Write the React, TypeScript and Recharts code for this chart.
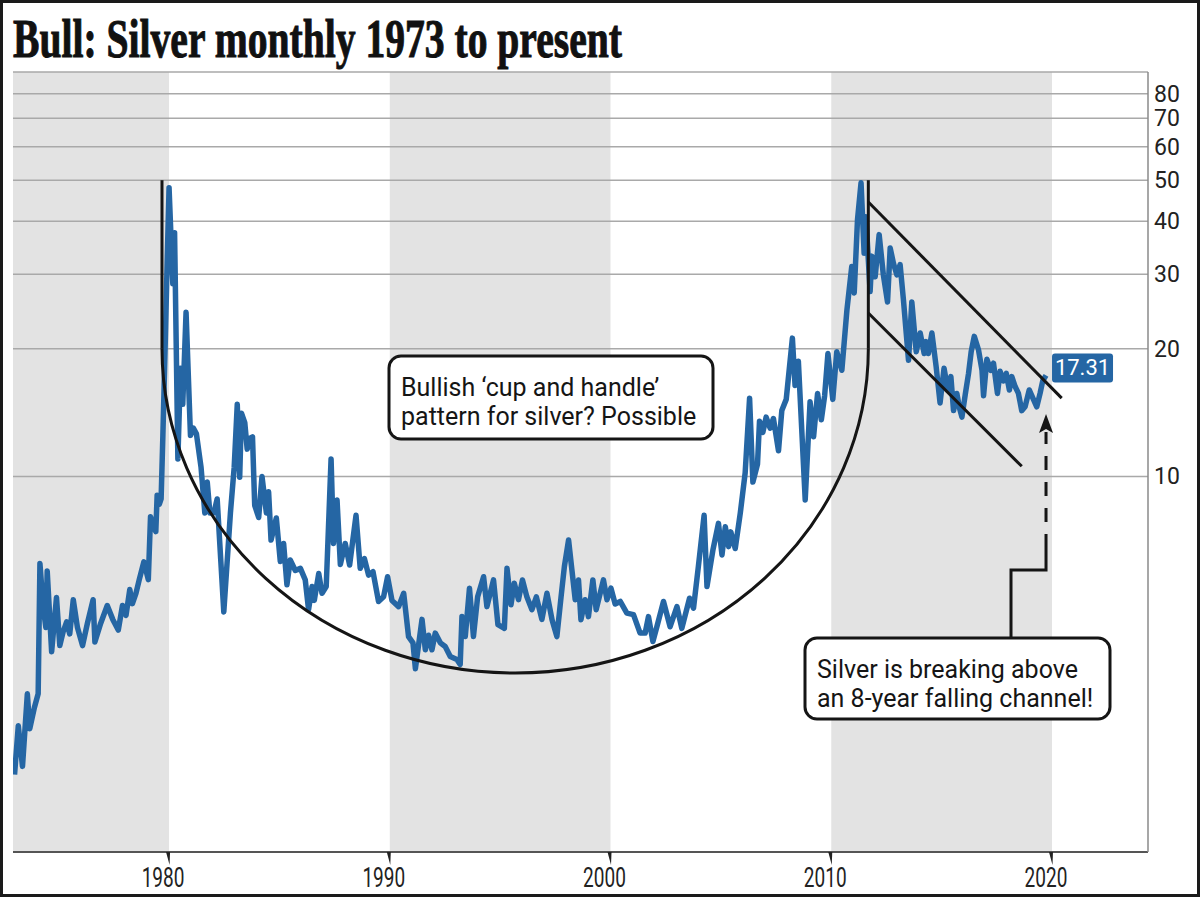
import React from "react";
import { LineChart, Line, XAxis, YAxis, ReferenceArea, ReferenceLine, ReferenceDot } from "recharts";

// silver, US$ per ounce (year as decimal)
const silver1970s: [number, number][] = [
  [1973.0, 1.98], [1973.17, 2.58], [1973.36, 2.07], [1973.58, 3.07], [1973.69, 2.54], [1973.9, 2.85],
  [1974.07, 3.07], [1974.15, 6.23], [1974.3, 4.9], [1974.42, 4.4], [1974.48, 5.98], [1974.68, 3.86],
  [1974.9, 5.18], [1975.05, 3.99], [1975.2, 4.3], [1975.36, 4.54], [1975.5, 4.25], [1975.66, 5.12],
  [1975.85, 4.4], [1976.08, 3.99], [1976.3, 4.5], [1976.56, 5.12], [1976.64, 4.07], [1976.9, 4.5],
  [1977.2, 4.96], [1977.45, 4.6], [1977.7, 4.34], [1977.89, 4.96], [1978.05, 4.7], [1978.22, 5.41],
  [1978.34, 5.01], [1978.5, 5.3], [1978.65, 5.71], [1978.86, 6.29], [1979.06, 5.71], [1979.16, 8.03],
  [1979.3, 7.6], [1979.4, 7.41], [1979.46, 9.03], [1979.56, 8.6], [1979.64, 8.85], [1979.72, 12.5],
  [1979.84, 22.0], [1979.92, 33.0],
];

const silver1980s: [number, number][] = [
  [1980.0, 48.0], [1980.17, 28.5], [1980.25, 37.6], [1980.4, 11.0], [1980.52, 18.0], [1980.62, 14.8],
  [1980.77, 24.4], [1980.97, 12.5], [1981.1, 13.0], [1981.24, 12.6], [1981.45, 10.5], [1981.62, 8.2],
  [1981.73, 9.7], [1981.85, 8.2], [1982.03, 8.2], [1982.18, 8.85], [1982.48, 4.79], [1982.78, 8.2],
  [1982.95, 10.5], [1983.09, 14.8], [1983.2, 9.96], [1983.28, 14.1], [1983.43, 13.4], [1983.54, 11.6],
  [1983.65, 12.3], [1983.78, 12.4], [1983.88, 8.55], [1984.06, 8.0], [1984.21, 10.0], [1984.41, 8.2],
  [1984.51, 9.2], [1984.62, 7.08], [1984.86, 7.98], [1985.04, 6.3], [1985.19, 6.95], [1985.34, 5.55],
  [1985.49, 6.35], [1985.72, 6.0], [1985.95, 6.07], [1986.17, 5.7], [1986.32, 4.85], [1986.48, 5.5],
  [1986.58, 5.1], [1986.78, 5.9], [1986.93, 5.3], [1987.12, 5.5], [1987.34, 11.0], [1987.45, 6.95],
  [1987.61, 8.8], [1987.76, 6.2], [1987.98, 6.95], [1988.18, 6.18], [1988.47, 8.1], [1988.66, 6.07],
  [1988.85, 6.4], [1989.04, 5.85], [1989.24, 5.96], [1989.49, 5.07], [1989.72, 5.2], [1989.9, 5.8],
];

const silver1990s: [number, number][] = [
  [1990.1, 5.1], [1990.4, 4.93], [1990.63, 5.3], [1990.85, 4.19], [1991.05, 4.05], [1991.16, 3.52],
  [1991.46, 4.6], [1991.61, 3.9], [1991.76, 4.22], [1991.91, 3.9], [1992.06, 4.27], [1992.29, 4.05],
  [1992.51, 3.97], [1992.74, 3.76], [1993.04, 3.7], [1993.19, 3.6], [1993.27, 4.67], [1993.42, 4.19],
  [1993.61, 5.45], [1993.79, 4.19], [1993.98, 5.2], [1994.25, 5.8], [1994.4, 4.93], [1994.7, 5.7],
  [1994.9, 4.47], [1995.19, 4.38], [1995.31, 6.07], [1995.49, 4.98], [1995.64, 5.6], [1995.83, 5.12],
  [1996.01, 5.7], [1996.21, 5.2], [1996.44, 4.85], [1996.64, 5.2], [1996.89, 4.6], [1997.12, 5.3],
  [1997.35, 4.59], [1997.57, 4.19], [1997.76, 5.2], [1997.91, 6.13], [1998.1, 7.08], [1998.25, 6.02],
  [1998.4, 5.12], [1998.55, 5.7], [1998.66, 4.59], [1998.85, 5.12], [1999.0, 4.67], [1999.2, 5.7],
  [1999.35, 4.85], [1999.53, 5.3], [1999.68, 5.7], [1999.84, 5.12],
];

const silver2000s: [number, number][] = [
  [2000.02, 5.45], [2000.21, 5.0], [2000.44, 5.07], [2000.74, 4.76], [2001.04, 4.72], [2001.34, 4.27],
  [2001.57, 4.27], [2001.72, 4.67], [2001.92, 4.08], [2002.1, 4.42], [2002.4, 5.07], [2002.7, 4.42],
  [2003.01, 4.93], [2003.23, 4.38], [2003.58, 5.16], [2003.76, 4.89], [2003.98, 6.13], [2004.24, 8.1],
  [2004.37, 5.5], [2004.64, 6.71], [2004.89, 7.75], [2005.05, 6.53], [2005.2, 7.61], [2005.35, 6.83],
  [2005.45, 7.4], [2005.65, 6.76], [2005.88, 8.2], [2006.1, 10.2], [2006.3, 15.3], [2006.45, 9.7],
  [2006.66, 10.7], [2006.75, 13.5], [2006.9, 12.7], [2007.05, 13.8], [2007.23, 13.0], [2007.38, 13.7],
  [2007.61, 11.5], [2007.76, 14.3], [2007.96, 15.2], [2008.24, 21.2], [2008.36, 16.4], [2008.51, 18.7],
  [2008.82, 8.8], [2009.04, 15.0], [2009.2, 12.4], [2009.38, 15.7], [2009.55, 13.6], [2009.7, 15.5],
  [2009.85, 19.5],
];

const silver2010s: [number, number][] = [
  [2010.07, 15.2], [2010.25, 19.7], [2010.48, 17.8], [2010.71, 24.7], [2010.93, 31.3], [2011.04, 27.1],
  [2011.19, 40.4], [2011.35, 49.3], [2011.49, 33.6], [2011.57, 41.0], [2011.76, 27.3], [2011.84, 33.1],
  [2011.99, 29.6], [2012.17, 37.2], [2012.36, 29.9], [2012.55, 25.8], [2012.67, 34.6], [2012.82, 31.8],
  [2012.97, 29.9], [2013.12, 31.6], [2013.27, 26.1], [2013.5, 18.8], [2013.65, 25.8], [2013.85, 19.7],
  [2014.03, 21.8], [2014.21, 19.5], [2014.3, 20.8], [2014.4, 19.5], [2014.56, 21.8], [2014.75, 18.2],
  [2014.93, 14.9], [2015.11, 18.0], [2015.28, 16.0], [2015.42, 17.2], [2015.54, 14.3], [2015.69, 15.7],
  [2015.81, 14.5], [2015.92, 13.8], [2016.07, 15.6], [2016.22, 17.5], [2016.34, 19.7], [2016.48, 21.4],
  [2016.67, 19.9], [2016.83, 17.8], [2016.9, 15.5], [2017.05, 18.9], [2017.23, 17.8], [2017.35, 18.5],
  [2017.53, 15.7], [2017.65, 17.7], [2017.8, 16.8], [2017.93, 17.5], [2018.07, 16.0], [2018.18, 17.2],
  [2018.33, 16.3], [2018.48, 15.7], [2018.63, 14.3], [2018.78, 14.6], [2018.97, 16.0], [2019.16, 15.2],
  [2019.31, 14.6], [2019.46, 15.7], [2019.58, 16.8], [2019.73, 17.31],
];

const priceTicks = [10, 20, 30, 40, 50, 60, 70, 80, 90];
const yearTicks = [1980, 1990, 2000, 2010, 2020];
const decadeBands: [number, number][] = [[1972.93, 1980], [1990, 2000], [2010, 2020]];

// annotation geometry in data terms (year, price)
const cupSides = [1979.68, 2011.68];
const cupRim: [number, number] = [50, 20];
const channelUpper: [number, number][] = [[2011.68, 44.4], [2020.44, 15.3]];
const channelLower: [number, number][] = [[2011.68, 24.3], [2018.63, 10.57]];

const W = 1200;
const H = 897;
const PLOT = { left: 13, right: 1148, top: 72, bottom: 852 };
const X_DOMAIN: [number, number] = [1972.93, 2024.35];
const Y_DOMAIN: [number, number] = [1.3, 90];

const px = (t: number) =>
  PLOT.left + ((t - X_DOMAIN[0]) / (X_DOMAIN[1] - X_DOMAIN[0])) * (PLOT.right - PLOT.left);
const py = (v: number) =>
  PLOT.bottom -
  (Math.log(v / Y_DOMAIN[0]) / Math.log(Y_DOMAIN[1] / Y_DOMAIN[0])) * (PLOT.bottom - PLOT.top);

const data = [...silver1970s, ...silver1980s, ...silver1990s, ...silver2000s, ...silver2010s].map(
  ([t, v]) => ({ t, v })
);
const last = data[data.length - 1];

const BLUE = "#2566a4";
const INK = "#151515";
const SANS = "Roboto, 'Open Sans', sans-serif";

const YearTick = (props: any) => {
  const { x, payload } = props;
  const y0 = PLOT.bottom;
  return (
    <g>
      <path d={`M${x - 3},${y0} L${x + 1},${y0} L${x + 0.5},${y0 + 13} Z`} fill="#222" />
      <text
        transform={`translate(${x - 6},${y0 + 35}) scale(0.68,1)`}
        textAnchor="middle"
        fontFamily={SANS}
        fontSize={28}
        fill="#222"
      >
        {payload.value}
      </text>
    </g>
  );
};

const PriceTick = (props: any) => {
  const { y, payload } = props;
  if (payload.value === 90) return <g />;
  return (
    <text x={PLOT.right + 6} y={y + 8} textAnchor="start" fontFamily={SANS} fontSize={23} fill="#222">
      {payload.value}
    </text>
  );
};

const PriceTag = (props: any) => {
  const { cx, cy } = props;
  const x = cx + 6;
  const y = cy - 22;
  return (
    <g>
      <rect x={x} y={y} width={61} height={29} rx={3} fill={BLUE} />
      <text x={x + 30.5} y={y + 22} textAnchor="middle" fontFamily={SANS} fontSize={22} fill="#fff">
        {last.v.toFixed(2)}
      </text>
    </g>
  );
};

const Callout = ({ x, y, w, h, lines }: { x: number; y: number; w: number; h: number; lines: string[] }) => (
  <g>
    <rect x={x} y={y} width={w} height={h} rx={12} fill="#fff" stroke={INK} strokeWidth={3} />
    {lines.map((s, i) => (
      <text key={i} x={x + 12} y={y + 40 + i * 29} fontFamily={SANS} fontSize={25} fill={INK}>
        {s}
      </text>
    ))}
  </g>
);

export default function App() {
  const cupL = px(cupSides[0]);
  const cupR = px(cupSides[1]);
  const rimY = py(cupRim[1]);
  const bowlBottom = 673;
  const arrowX = px(last.t);

  return (
    <div style={{ position: "relative", width: W, height: H, background: "#fff", overflow: "hidden" }}>
      <style>{"body{margin:0}"}</style>
      <LineChart
        width={W}
        height={H}
        data={data}
        margin={{ top: PLOT.top, right: W - PLOT.right - 52, bottom: H - PLOT.bottom - 30, left: PLOT.left }}
      >
        {decadeBands.map(([a, b]) => (
          <ReferenceArea key={a} x1={a} x2={b} fill="#e3e3e3" fillOpacity={1} stroke="none" ifOverflow="hidden" />
        ))}
        {priceTicks.map((v) => (
          <ReferenceLine key={v} y={v} stroke="#a9a9a9" strokeWidth={1.5} />
        ))}
        <XAxis
          dataKey="t"
          type="number"
          domain={X_DOMAIN}
          allowDataOverflow
          ticks={yearTicks}
          tick={<YearTick />}
          tickLine={false}
          axisLine={{ stroke: "#555", strokeWidth: 2 }}
          height={30}
          interval={0}
        />
        <YAxis
          orientation="right"
          scale="log"
          domain={Y_DOMAIN}
          allowDataOverflow
          ticks={priceTicks}
          tick={<PriceTick />}
          tickLine={false}
          axisLine={{ stroke: "#8a8a8a", strokeWidth: 1.5 }}
          width={52}
          interval={0}
        />
        <Line
          type="linear"
          dataKey="v"
          stroke={BLUE}
          strokeWidth={5.5}
          strokeLinejoin="round"
          dot={false}
          isAnimationActive={false}
        />
        {cupSides.map((t) => (
          <ReferenceLine
            key={t}
            segment={[{ x: t, y: cupRim[0] }, { x: t, y: cupRim[1] }]}
            stroke={INK}
            strokeWidth={3}
          />
        ))}
        <ReferenceLine
          segment={channelUpper.map(([x, y]) => ({ x, y }))}
          stroke={INK}
          strokeWidth={3}
        />
        <ReferenceLine
          segment={channelLower.map(([x, y]) => ({ x, y }))}
          stroke={INK}
          strokeWidth={3}
        />
        <ReferenceDot x={last.t} y={last.v} r={0} shape={<PriceTag />} ifOverflow="visible" />
      </LineChart>

      <svg width={W} height={H} style={{ position: "absolute", left: 0, top: 0, pointerEvents: "none" }}>
        <text
          x={13}
          y={57}
          fontFamily="'Liberation Serif', 'DejaVu Serif', serif"
          fontWeight={700}
          fontSize={54}
          textLength={609}
          lengthAdjust="spacingAndGlyphs"
          fill="#111"
          stroke="#111"
          strokeWidth={1}
        >
          Bull: Silver monthly 1973 to present
        </text>
        <path
          d={`M${cupL},${rimY} A${(cupR - cupL) / 2},${bowlBottom - rimY} 0 0 0 ${cupR},${rimY}`}
          fill="none"
          stroke={INK}
          strokeWidth={3}
        />
        <Callout x={389} y={356} w={324} h={83} lines={["Bullish \u2018cup and handle\u2019", "pattern for silver? Possible"]} />
        <Callout x={805} y={638} w={305} h={81} lines={["Silver is breaking above", "an 8-year falling channel!"]} />
        <polyline
          points={`1011,638 1011,570 ${arrowX},570 ${arrowX},548`}
          fill="none"
          stroke={INK}
          strokeWidth={3}
        />
        <line x1={arrowX} y1={548} x2={arrowX} y2={432} stroke={INK} strokeWidth={3} strokeDasharray="14 12" />
        <path d={`M${arrowX},414 L${arrowX + 7},433 L${arrowX},429 L${arrowX - 7},433 Z`} fill={INK} />
      </svg>
      <div
        style={{
          position: "absolute",
          inset: 0,
          border: "3px solid #1a1a1a",
          pointerEvents: "none",
        }}
      />
    </div>
  );
}
